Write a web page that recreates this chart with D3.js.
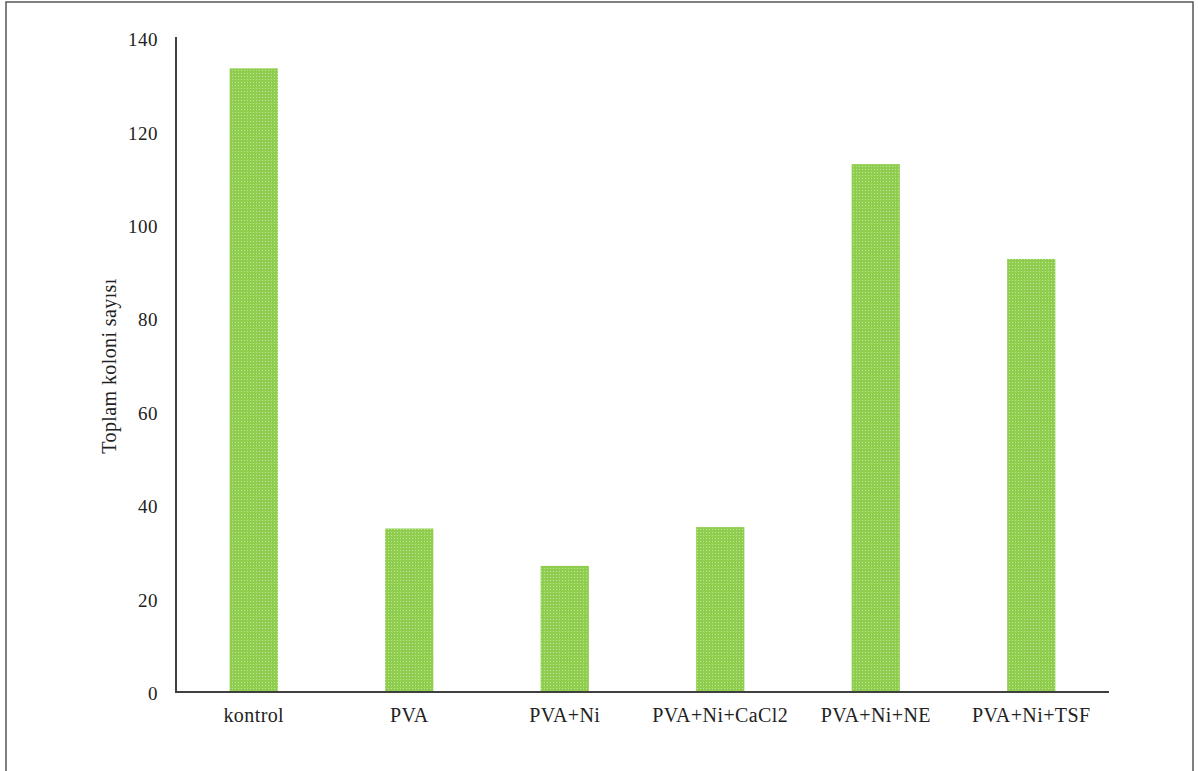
<!DOCTYPE html>
<html>
<head>
<meta charset="utf-8">
<script src="https://cdn.jsdelivr.net/npm/d3@7"></script>
<style>
  body { margin: 0; background: #fff; }
  svg { display: block; }
  text { font-family: "Liberation Serif", "Times New Roman", serif; fill: #222; }
</style>
</head>
<body>
<svg id="chart" width="1198" height="771"></svg>
<script>
const categories = ["kontrol", "PVA", "PVA+Ni", "PVA+Ni+CaCl2", "PVA+Ni+NE", "PVA+Ni+TSF"];
const values = [133.5, 35, 27, 35.3, 113, 92.7];
const yTicks = [0, 20, 40, 60, 80, 100, 120, 140];
const yLabel = "Toplam koloni sayısı";

const svg = d3.select("#chart");

// outer frame
svg.append("rect")
  .attr("x", 6).attr("y", 2).attr("width", 1187).attr("height", 775)
  .attr("fill", "none").attr("stroke", "#555").attr("stroke-width", 1.5);

// pattern for bars
const defs = svg.append("defs");
const pat = defs.append("pattern")
  .attr("id", "dots").attr("width", 3).attr("height", 3)
  .attr("patternUnits", "userSpaceOnUse");
pat.append("rect").attr("width", 3).attr("height", 3).attr("fill", "#8fcd4f");
pat.append("rect").attr("x", 1).attr("y", 1).attr("width", 1).attr("height", 1).attr("fill", "#c2e59a");

const x0 = 176, x1 = 1109, yBase = 692, yTop = 38;

const x = d3.scaleBand().domain(categories).range([x0, x1])
  .paddingInner(0.69).paddingOuter(0.345);
const y = d3.scaleLinear().domain([0, 140]).range([yBase, yTop]);

// bars
svg.append("g").selectAll("rect")
  .data(categories)
  .join("rect")
  .attr("x", d => x(d))
  .attr("y", (d, i) => y(values[i]))
  .attr("width", x.bandwidth())
  .attr("height", (d, i) => yBase - y(values[i]))
  .attr("fill", "url(#dots)");

// y axis
const yAxis = d3.axisLeft(y).tickValues(yTicks).tickSize(0).tickPadding(18);
const gy = svg.append("g").attr("transform", `translate(${x0},0)`).call(yAxis);
gy.select(".domain").remove();
gy.selectAll("text")
  .attr("font-size", 19)
  .attr("letter-spacing", 0.5)
  .attr("dy", "0.4em")
  .style("font-family", "'Liberation Serif', serif")
  .attr("fill", "#222");
svg.append("line")
  .attr("x1", x0).attr("x2", x0).attr("y1", 37).attr("y2", yBase + 1)
  .attr("stroke", "#404040").attr("stroke-width", 2);

// x axis
const xAxis = d3.axisBottom(x).tickSize(0).tickPadding(16);
const gx = svg.append("g").attr("transform", `translate(0,${yBase})`).call(xAxis);
gx.select(".domain").remove();
gx.selectAll("text")
  .attr("font-size", 20)
  .attr("letter-spacing", 0.4)
  .style("font-family", "'Liberation Serif', serif")
  .attr("fill", "#222");
svg.append("line")
  .attr("x1", x0 - 1).attr("x2", x1).attr("y1", yBase).attr("y2", yBase)
  .attr("stroke", "#404040").attr("stroke-width", 2);

// y label
svg.append("text")
  .attr("transform", `translate(116,366) rotate(-90)`)
  .attr("text-anchor", "middle")
  .attr("font-size", 20)
  .attr("letter-spacing", 0.4)
  .text(yLabel);
</script>
</body>
</html>
